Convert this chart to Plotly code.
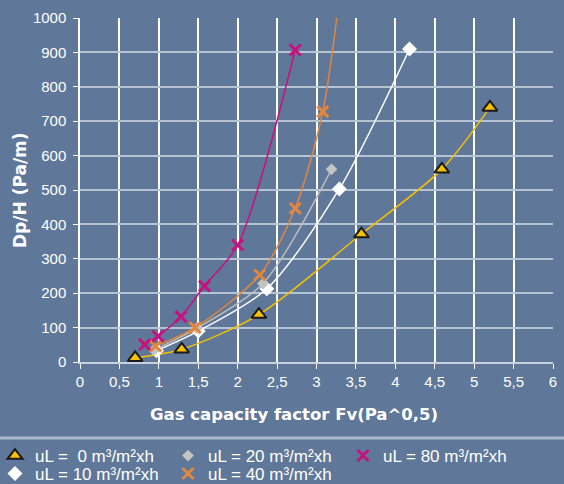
import plotly.graph_objects as go

# ---- data ----
fv_0 = [0.70, 1.29, 2.27, 3.57, 4.59, 5.20]
dp_0 = [12, 37, 138, 372, 560, 740]

fv_10 = [0.97, 1.50, 2.37, 3.29, 4.18]
dp_10 = [33, 90, 213, 503, 910]

fv_20 = [0.94, 1.48, 2.32, 3.19]
dp_20 = [35, 98, 228, 560]

fv_40 = [0.96, 1.46, 2.28, 2.73, 3.08, 3.31]
dp_40 = [46, 100, 253, 447, 728, 1100]

fv_80 = [0.82, 0.99, 1.28, 1.58, 2.00, 2.73]
dp_80 = [51, 75, 132, 221, 340, 907]

x_ticks = [0, 0.5, 1, 1.5, 2, 2.5, 3, 3.5, 4, 4.5, 5, 5.5, 6]
x_tick_labels = ["0", "0,5", "1", "1,5", "2", "2,5", "3", "3,5", "4", "4,5", "5", "5,5", "6"]
y_ticks = [0, 100, 200, 300, 400, 500, 600, 700, 800, 900, 1000]
y_tick_labels = [str(v) for v in y_ticks]

names = ["uL =\u00a0\u00a00 m³/m²xh", "uL = 10 m³/m²xh", "uL = 20 m³/m²xh",
         "uL = 40 m³/m²xh", "uL = 80 m³/m²xh"]

BG = "#5f7799"
series = [
    dict(x=fv_0, y=dp_0, name=names[0], line="#f5c000",
         marker=dict(symbol="triangle-up", size=13, color="#f5c000",
                     line=dict(color="#1a1a1a", width=2)), legend="legend"),
    dict(x=fv_10, y=dp_10, name=names[1], line="#ffffff",
         marker=dict(symbol="diamond", size=11.5, color="#ffffff",
                     line=dict(width=0)), legend="legend2"),
    dict(x=fv_20, y=dp_20, name=names[2], line="#bdbdbd",
         marker=dict(symbol="diamond", size=9, color="#c4c4c4",
                     line=dict(width=0)), legend="legend3"),
    dict(x=fv_40, y=dp_40, name=names[3], line="#e2873e",
         marker=dict(symbol="x-thin", size=11, color="#e2873e",
                     line=dict(color="#e2873e", width=3)), legend="legend4"),
    dict(x=fv_80, y=dp_80, name=names[4], line="#c8107f",
         marker=dict(symbol="x-thin", size=11, color="#c8107f",
                     line=dict(color="#c8107f", width=3)), legend="legend5"),
]

fig = go.Figure()
for s in series:
    fig.add_trace(go.Scatter(x=s["x"], y=s["y"], mode="lines",
                             line=dict(color=s["line"], width=1.5, shape="spline", smoothing=0.8),
                             showlegend=False, hoverinfo="skip"))
for s in series:
    fig.add_trace(go.Scatter(x=s["x"], y=s["y"], mode="markers", name=s["name"],
                             marker=s["marker"], legend=s["legend"], cliponaxis=True))

# plot area pixels: left 80, right 553, top 18, bottom 362
PW, PH = 473.0, 344.0
def px_x(p):
    return (p - 80) / PW
def px_y(p):
    return (362 - p) / PH

legend_font = dict(family="Liberation Sans, Arial, sans-serif", size=17, color="white")
leg_pos = {
    "legend": (33, 456),
    "legend2": (33, 474),
    "legend3": (206, 456),
    "legend4": (206, 474),
    "legend5": (381, 456),
}
legend_layouts = {}
for key, (tx, ty) in leg_pos.items():
    legend_layouts[key] = dict(x=px_x(tx - 38), y=px_y(ty), xanchor="left", yanchor="middle",
                               bgcolor="rgba(0,0,0,0)", borderwidth=0, font=legend_font,
                               itemwidth=30)

fig.update_layout(
    width=564, height=484, autosize=False,
    margin=dict(l=80, r=11, t=18, b=122, autoexpand=False),
    paper_bgcolor=BG, plot_bgcolor=BG,
    font=dict(family="Liberation Sans, Arial, sans-serif", color="white", size=15),
    **legend_layouts,
    xaxis=dict(range=[0, 6], tickvals=x_ticks, ticktext=x_tick_labels,
               showgrid=True, gridcolor="#ffffff", gridwidth=1.5,
               showline=True, linecolor="#c9d3df", linewidth=1.5,
               ticks="outside", ticklen=5, tickcolor="#ffffff", tickwidth=1.2,
               zeroline=False, tickfont=dict(size=15, color="white")),
    yaxis=dict(range=[0, 1000], tickvals=y_ticks, ticktext=y_tick_labels,
               showgrid=True, gridcolor="#b6c3d3", gridwidth=1.5,
               showline=True, linecolor="#ffffff", linewidth=1.5,
               ticks="outside", ticklen=5, tickcolor="#ffffff", tickwidth=1.2,
               zeroline=False, ticklabelstandoff=4, tickfont=dict(size=15, color="white")),
    annotations=[
        dict(text="<b>Gas capacity factor Fv(Pa^0,5)</b>", xref="paper", yref="paper",
             x=px_x(294), y=px_y(414), xanchor="center", yanchor="middle", showarrow=False,
             font=dict(family="DejaVu Sans, sans-serif", size=16.5, color="white")),
        dict(text="<b>Dp/H (Pa/m)</b>", xref="paper", yref="paper", textangle=-90,
             x=px_x(20), y=px_y(190), xanchor="center", yanchor="middle", showarrow=False,
             font=dict(family="DejaVu Sans, sans-serif", size=17, color="white")),
    ],
    shapes=[
        dict(type="line", xref="paper", yref="paper", x0=px_x(0), x1=px_x(564),
             y0=px_y(438), y1=px_y(438), line=dict(color="#a9b8ca", width=3)),
    ],
)

fig.write_html("out.html", config={"displayModeBar": False},
               post_script="document.body.style.margin='0';document.body.style.background='#5f7799';")
